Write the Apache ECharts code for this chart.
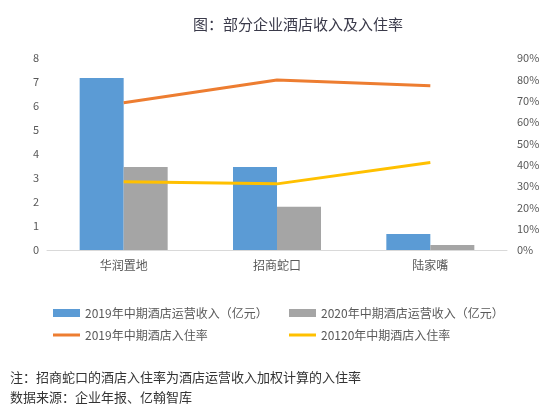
<!DOCTYPE html>
<html>
<head>
<meta charset="utf-8">
<script src="https://cdn.jsdelivr.net/npm/echarts@6/dist/echarts.min.js"></script>
<style>
  html, body { margin: 0; padding: 0; background: #fff; }
  #main { width: 556px; height: 413px; }
</style>
</head>
<body>
<div id="main"></div>
<script>
// data
const companies = ['华润置地', '招商蛇口', '陆家嘴'];
const revenue2019 = [7.17, 3.46, 0.67];
const revenue2020 = [3.46, 1.8, 0.21];
const occupancy2019 = [69, 79.7, 77];
const occupancy2020 = [32, 31, 41];

const seriesNames = [
    '2019年中期酒店运营收入（亿元）',
    '2020年中期酒店运营收入（亿元）',
    '2019年中期酒店入住率',
    '20120年中期酒店入住率'
];
const noteLines = [
    '注：招商蛇口的酒店入住率为酒店运营收入加权计算的入住率',
    '数据来源：企业年报、亿翰智库'
];

const font = '"Microsoft YaHei", "Noto Sans CJK SC", sans-serif';
const labelColor = '#595959';
const lineIcon = 'path://M0,0H27V3H0Z';

let chart = echarts.init(document.getElementById('main'));

let legendBase = {
    orient: 'vertical', top: 302,
    itemWidth: 27, itemHeight: 8, itemGap: 10,
    textStyle: { fontSize: 12, color: labelColor }
};

let option = {
    animation: false,
    textStyle: { fontFamily: font },
    title: {
        text: '图：部分企业酒店收入及入住率',
        left: 188,
        top: 12,
        textStyle: { fontSize: 15, fontWeight: 'normal', color: '#3a3a4a', fontFamily: font }
    },
    graphic: [
        {
            type: 'text', left: 10, top: 367,
            style: { text: noteLines.join('\n'), font: '13px ' + font, fill: '#333', lineHeight: 20 }
        }
    ],
    legend: [
        Object.assign({}, legendBase, {
            left: 48,
            data: [{ name: seriesNames[0], icon: 'rect' }, { name: seriesNames[2], icon: lineIcon }]
        }),
        Object.assign({}, legendBase, {
            left: 284,
            data: [{ name: seriesNames[1], icon: 'rect' }, { name: seriesNames[3], icon: lineIcon }]
        })
    ],
    grid: { left: 47, right: 49, top: 58, bottom: 163 },
    xAxis: {
        type: 'category',
        data: companies,
        axisLine: { lineStyle: { color: '#d9d9d9', width: 1 } },
        axisTick: { show: false },
        axisLabel: { color: labelColor, fontSize: 12, margin: 9 }
    },
    yAxis: [
        {
            type: 'value', min: 0, max: 8, interval: 1,
            splitLine: { show: false },
            axisLine: { show: false },
            axisTick: { show: false },
            axisLabel: { color: labelColor, fontSize: 11, margin: 8 }
        },
        {
            type: 'value', min: 0, max: 90, interval: 10,
            splitLine: { show: false },
            axisLine: { show: false },
            axisTick: { show: false },
            axisLabel: { color: labelColor, fontSize: 11, margin: 10, formatter: '{value}%' }
        }
    ],
    series: [
        {
            name: seriesNames[0], type: 'bar', data: revenue2019,
            barWidth: 44, barGap: '0%',
            itemStyle: { color: '#5b9bd5' }
        },
        {
            name: seriesNames[1], type: 'bar', data: revenue2020,
            barWidth: 44, barGap: '0%',
            itemStyle: { color: '#a5a5a5' }
        },
        {
            name: seriesNames[2], type: 'line', yAxisIndex: 1, data: occupancy2019,
            symbol: 'none', lineStyle: { color: '#ed7d31', width: 3 },
            itemStyle: { color: '#ed7d31' }
        },
        {
            name: seriesNames[3], type: 'line', yAxisIndex: 1, data: occupancy2020,
            symbol: 'none', lineStyle: { color: '#ffc000', width: 3 },
            itemStyle: { color: '#ffc000' }
        }
    ]
};

chart.setOption(option);
</script>
</body>
</html>
